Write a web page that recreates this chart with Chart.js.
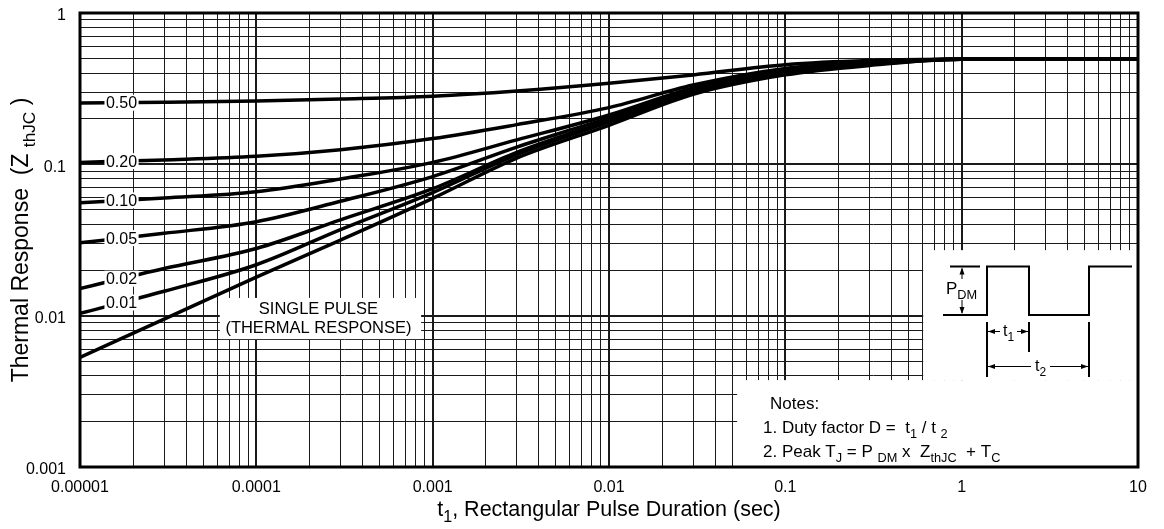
<!DOCTYPE html>
<html>
<head>
<meta charset="utf-8">
<script src="https://cdn.jsdelivr.net/npm/chart.js@4.4.1/dist/chart.umd.min.js"></script>
<style>
  html, body { margin: 0; padding: 0; background: #fff; }
  #wrap { width: 1164px; height: 529px; }
</style>
</head>
<body>
<div id="wrap"><canvas id="zth"></canvas></div>
<script>
// pulse duration (sec)
const pulseTimes = [1e-5, 3e-5, 1e-4, 3e-4, 1e-3, 3e-3, 1e-2, 3e-2, 0.1, 0.3, 1, 10];

// thermal response per duty factor
const duty050 = [0.254, 0.257, 0.262, 0.270, 0.282, 0.305, 0.343, 0.39, 0.455, 0.485, 0.494, 0.494];
const duty020 = [0.103, 0.107, 0.113, 0.125, 0.148, 0.183, 0.237, 0.334, 0.43, 0.475, 0.494, 0.494];
const duty010 = [0.0557, 0.060, 0.066, 0.080, 0.103, 0.145, 0.212, 0.320, 0.42, 0.47, 0.494, 0.494];
const duty005 = [0.0303, 0.035, 0.0418, 0.057, 0.083, 0.130, 0.203, 0.310, 0.41, 0.465, 0.494, 0.494];
const duty002 = [0.0151, 0.0205, 0.0278, 0.043, 0.069, 0.120, 0.195, 0.302, 0.40, 0.46, 0.494, 0.494];
const duty001 = [0.01035, 0.0145, 0.0217, 0.037, 0.065, 0.116, 0.190, 0.298, 0.395, 0.455, 0.494, 0.494];
const singlePulse = [0.0053, 0.0095, 0.018, 0.0316, 0.0596, 0.11, 0.181, 0.29, 0.39, 0.45, 0.494, 0.494];

const curveLabels = ['0.50', '0.20', '0.10', '0.05', '0.02', '0.01', 'SINGLE PULSE'];
const curveData = [duty050, duty020, duty010, duty005, duty002, duty001, singlePulse];

const xDecades = [1e-5, 1e-4, 1e-3, 1e-2, 1e-1, 1, 10];
const xTickLabels = ['0.00001', '0.0001', '0.001', '0.01', '0.1', '1', '10'];
const yDecades = [0.001, 0.01, 0.1, 1];
const yTickLabels = ['0.001', '0.01', '0.1', '1'];

const FONT = '"Liberation Sans", Arial, sans-serif';

// 1..9 x each decade, for the grid
function gridValues(decades) {
  const out = [];
  for (let i = 0; i < decades.length - 1; i++) {
    for (let m = 1; m < 10; m++) out.push(decades[i] * m);
  }
  out.push(decades[decades.length - 1]);
  return out;
}

function isDecade(v) {
  const l = Math.log10(v);
  return Math.abs(l - Math.round(l)) < 1e-9;
}

function labelFor(v, decades, labels) {
  for (let i = 0; i < decades.length; i++) {
    if (Math.abs(v / decades[i] - 1) < 1e-9) return labels[i];
  }
  return '';
}

// draw text made of normal / subscript pieces, starting at x
function drawRich(ctx, parts, x, y, size, align) {
  let total = 0;
  parts.forEach(p => {
    ctx.font = (p.sub ? size * 0.75 : size) + 'px ' + FONT;
    total += ctx.measureText(p.t).width;
  });
  let cx = align === 'center' ? x - total / 2 : x;
  ctx.textAlign = 'left';
  ctx.textBaseline = 'alphabetic';
  parts.forEach(p => {
    ctx.font = (p.sub ? size * 0.75 : size) + 'px ' + FONT;
    ctx.fillText(p.t, cx, y + (p.sub ? size * 0.3 : 0));
    cx += ctx.measureText(p.t).width;
  });
}

function arrowHead(ctx, x, y, dir) {
  ctx.beginPath();
  const s = 7, w = 2.5;
  if (dir === 'l') { ctx.moveTo(x, y); ctx.lineTo(x + s, y - w); ctx.lineTo(x + s, y + w); }
  if (dir === 'r') { ctx.moveTo(x, y); ctx.lineTo(x - s, y - w); ctx.lineTo(x - s, y + w); }
  if (dir === 'u') { ctx.moveTo(x, y); ctx.lineTo(x - w, y + s); ctx.lineTo(x + w, y + s); }
  if (dir === 'd') { ctx.moveTo(x, y); ctx.lineTo(x - w, y - s); ctx.lineTo(x + w, y - s); }
  ctx.closePath();
  ctx.fill();
}

// value of a curve at x, interpolated in log-log space
function curveAt(data, x) {
  const lx = Math.log10(x);
  for (let i = 0; i < pulseTimes.length - 1; i++) {
    const a = Math.log10(pulseTimes[i]), b = Math.log10(pulseTimes[i + 1]);
    if (lx >= a && lx <= b) {
      const f = (lx - a) / (b - a);
      return Math.pow(10, Math.log10(data[i]) + f * (Math.log10(data[i + 1]) - Math.log10(data[i])));
    }
  }
  return data[0];
}

const backdrop = {
  id: 'backdrop',
  beforeDatasetsDraw(chart) {
    const ctx = chart.ctx, a = chart.chartArea;
    const xs = chart.scales.x, ys = chart.scales.y;
    ctx.save();
    ctx.fillStyle = '#fff';
    // single pulse label box
    const bx = xs.getPixelForValue(6.2e-5), ex = xs.getPixelForValue(8.6e-4);
    const by = ys.getPixelForValue(0.0131), ey = ys.getPixelForValue(0.0070);
    ctx.fillRect(bx, by, ex - bx, ey - by);
    // pulse diagram area and notes area
    const ix = xs.getPixelForValue(0.605);
    const iy = ys.getPixelForValue(0.0271);
    const ny = ys.getPixelForValue(0.00375);
    const nx = xs.getPixelForValue(0.0533);
    ctx.fillRect(ix, iy, a.right - ix, ny - iy);
    ctx.fillRect(nx, ny, a.right - nx, a.bottom - ny);
    ctx.restore();
  },
  afterDraw(chart) {
    const ctx = chart.ctx, a = chart.chartArea;
    const xs = chart.scales.x, ys = chart.scales.y;
    ctx.save();
    ctx.fillStyle = '#000';
    ctx.strokeStyle = '#000';

    // duty factor labels on the curves
    const lx = xs.getPixelForValue(1.72e-5);
    ctx.font = '16px ' + FONT;
    ctx.textAlign = 'center';
    ctx.textBaseline = 'middle';
    for (let i = 0; i < 6; i++) {
      const py = ys.getPixelForValue(curveAt(curveData[i], 1.72e-5));
      const w = ctx.measureText(curveLabels[i]).width + 3;
      ctx.fillStyle = '#fff';
      ctx.fillRect(lx - w / 2, py - 8, w, 16);
      ctx.fillStyle = '#000';
      ctx.fillText(curveLabels[i], lx, py + 1);
    }

    // single pulse label
    const sx = xs.getPixelForValue(2.25e-4);
    ctx.font = '16.5px ' + FONT;
    ctx.fillText('SINGLE PULSE', sx, 309);
    ctx.fillText('(THERMAL RESPONSE)', sx, 328);

    // pulse waveform sketch
    const hi = 266.5, lo = 315;
    ctx.lineWidth = 2;
    ctx.beginPath();
    ctx.moveTo(950, hi); ctx.lineTo(980, hi);
    ctx.moveTo(943, lo); ctx.lineTo(987, lo); ctx.lineTo(987, hi); ctx.lineTo(1029, hi);
    ctx.lineTo(1029, lo); ctx.lineTo(1089, lo); ctx.lineTo(1089, hi); ctx.lineTo(1132, hi);
    ctx.stroke();
    ctx.beginPath();
    ctx.moveTo(987, 322); ctx.lineTo(987, 377);
    ctx.moveTo(1029, 322); ctx.lineTo(1029, 352);
    ctx.moveTo(1089, 322); ctx.lineTo(1089, 377);
    ctx.stroke();
    ctx.lineWidth = 1;
    ctx.beginPath();
    ctx.moveTo(962, hi + 2); ctx.lineTo(962, 279);
    ctx.moveTo(962, 300); ctx.lineTo(962, lo - 2);
    ctx.moveTo(988, 331.5); ctx.lineTo(1000, 331.5);
    ctx.moveTo(1017, 331.5); ctx.lineTo(1028, 331.5);
    ctx.moveTo(988, 366.5); ctx.lineTo(1031, 366.5);
    ctx.moveTo(1050, 366.5); ctx.lineTo(1088, 366.5);
    ctx.stroke();
    arrowHead(ctx, 962, hi + 1, 'u');
    arrowHead(ctx, 962, lo - 1, 'd');
    arrowHead(ctx, 988, 331.5, 'l');
    arrowHead(ctx, 1028, 331.5, 'r');
    arrowHead(ctx, 988, 366.5, 'l');
    arrowHead(ctx, 1088, 366.5, 'r');
    drawRich(ctx, [{t: 'P'}, {t: 'DM', sub: true}], 946, 294, 17, 'left');
    drawRich(ctx, [{t: 't'}, {t: '1', sub: true}], 1003, 336, 16, 'left');
    drawRich(ctx, [{t: 't'}, {t: '2', sub: true}], 1035, 371, 16, 'left');

    // notes
    drawRich(ctx, [{t: 'Notes:'}], 770, 409, 17, 'left');
    drawRich(ctx, [{t: '1. Duty factor D =  t'}, {t: '1', sub: true}, {t: ' / t '}, {t: '2', sub: true}], 763, 433, 17, 'left');
    drawRich(ctx, [{t: '2. Peak T'}, {t: 'J', sub: true}, {t: ' = P '}, {t: 'DM', sub: true}, {t: ' x  Z'},
                   {t: 'thJC', sub: true}, {t: '  + T'}, {t: 'C', sub: true}], 763, 457, 17, 'left');

    // frame
    ctx.lineWidth = 3;
    ctx.strokeRect(a.left, a.top, a.right - a.left, a.bottom - a.top);

    // axis titles
    drawRich(ctx, [{t: 't'}, {t: '1', sub: true}, {t: ', Rectangular Pulse Duration (sec)'}], (a.left + a.right) / 2, 516, 21.5, 'center');
    ctx.translate(28, (a.top + a.bottom) / 2);
    ctx.rotate(-Math.PI / 2);
    drawRich(ctx, [{t: 'Thermal Response  (Z '}, {t: 'thJC', sub: true}, {t: ' )'}], 0, 0, 23, 'center');
    ctx.restore();
  }
};

const xGrid = gridValues(xDecades);
const yGrid = gridValues(yDecades);

new Chart(document.getElementById('zth'), {
  type: 'line',
  data: {
    datasets: curveData.map((d, i) => ({
      label: curveLabels[i],
      data: d.map((v, j) => ({x: pulseTimes[j], y: v})),
      borderColor: '#000',
      borderWidth: 3.5,
      pointRadius: 0,
      fill: false,
      cubicInterpolationMode: 'monotone'
    }))
  },
  options: {
    responsive: true,
    maintainAspectRatio: false,
    animation: false,
    layout: {padding: {top: 13, right: 26, left: 0, bottom: 0}},
    plugins: {legend: {display: false}, tooltip: {enabled: false}},
    scales: {
      x: {
        type: 'logarithmic',
        min: 1e-5,
        max: 10,
        afterBuildTicks: s => { s.ticks = xGrid.map(v => ({value: v, major: isDecade(v)})); },
        afterFit: s => { s.height = 62; s.paddingLeft = 0; s.paddingRight = 0; },
        border: {display: false},
        grid: {
          drawTicks: false,
          color: '#1a1a1a',
          lineWidth: c => (c.tick && isDecade(c.tick.value)) ? 2 : 1
        },
        ticks: {
          autoSkip: false,
          maxRotation: 0,
          padding: 11,
          color: '#000',
          font: {family: FONT, size: 16},
          callback: v => labelFor(v, xDecades, xTickLabels)
        }
      },
      y: {
        type: 'logarithmic',
        min: 0.001,
        max: 1,
        afterBuildTicks: s => { s.ticks = yGrid.map(v => ({value: v, major: isDecade(v)})); },
        afterFit: s => { s.width = 80; s.paddingTop = 0; s.paddingBottom = 0; },
        border: {display: false},
        grid: {
          drawTicks: false,
          color: '#1a1a1a',
          lineWidth: c => (c.tick && isDecade(c.tick.value)) ? 2 : 1
        },
        ticks: {
          autoSkip: false,
          padding: 14,
          labelOffset: 3,
          color: '#000',
          font: {family: FONT, size: 16},
          callback: v => labelFor(v, yDecades, yTickLabels)
        }
      }
    }
  },
  plugins: [backdrop]
});
</script>
</body>
</html>
